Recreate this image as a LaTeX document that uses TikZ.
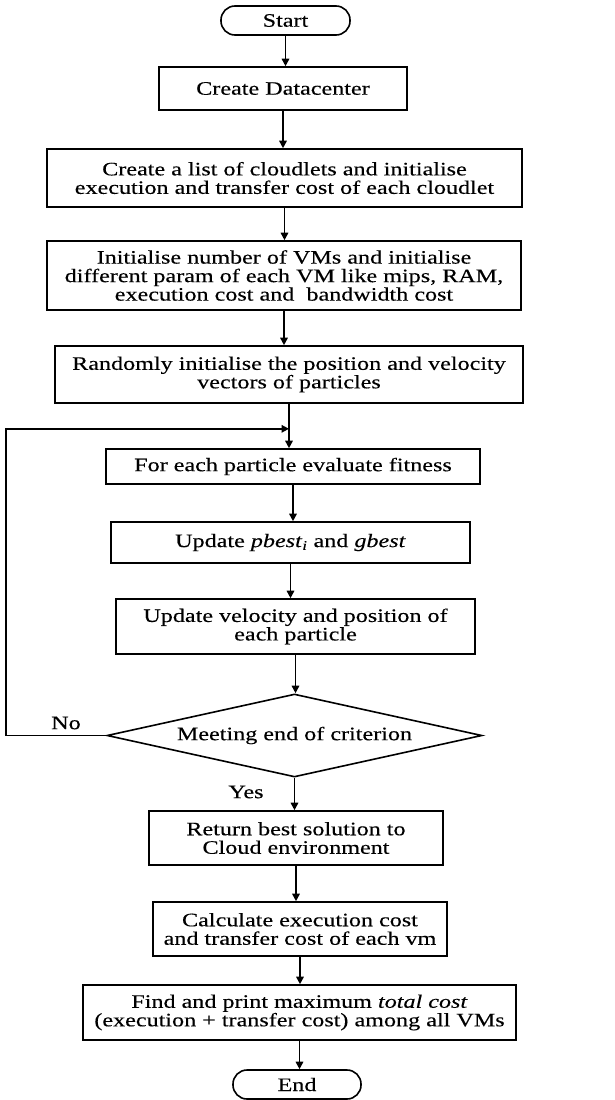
\documentclass[tikz,border=0pt]{standalone}
\usepackage{fontspec}
\setmainfont{Liberation Serif}[FakeStretch=1.27,FakeBold=0.3]
\usetikzlibrary{shapes.geometric,arrows.meta}
\begin{document}
\begin{tikzpicture}[x=1pt,y=1pt,
  font=\fontsize{19}{18.5}\selectfont,
  stepbox/.style={draw, line width=1.6pt, rectangle, align=center, inner sep=0pt},
  termbox/.style={draw, line width=1.6pt, rectangle, rounded corners=14pt, inner sep=0pt},
  decbox/.style={draw, line width=1.6pt, diamond, shape aspect=4.5, inner sep=0pt, align=center},
  arr/.style={line width=1.6pt, -{Triangle[length=7.5pt,width=7.5pt]}},
  lbl/.style={inner sep=0pt}]
\useasboundingbox (0,0) rectangle (615,-1100);

% terminals, steps and the decision
\node[termbox, minimum width=129pt, minimum height=29pt] (start) at (285.5,-20.5) {Start};
\node[stepbox, minimum width=248pt, minimum height=43pt] (dc) at (283,-88.5) {Create Datacenter};
\node[stepbox, minimum width=475pt, minimum height=58pt] (cl) at (284.5,-178) {Create a list of cloudlets and initialise\\execution and transfer cost of each cloudlet};
\node[stepbox, minimum width=474pt, minimum height=69pt] (vm) at (284,-275.5) {Initialise number of VMs and initialise\\different param of each VM like mips, RAM,\\execution cost and\ \ bandwidth cost};
\node[stepbox, minimum width=468pt, minimum height=57pt] (init) at (289,-374.5) {Randomly initialise the position and velocity\\vectors of particles};
\node[stepbox, minimum width=374pt, minimum height=35pt] (fit) at (293,-466.5) {For each particle evaluate fitness};
\node[stepbox, minimum width=359pt, minimum height=41pt] (best) at (290.5,-542.5) {Update \textit{pbest}\textsubscript{\textit{i}} and \textit{gbest}};
\node[stepbox, minimum width=359pt, minimum height=55pt] (upd) at (295.5,-626.5) {Update velocity and position of\\each particle};
\node[decbox, minimum width=375pt, minimum height=83pt] (crit) at (294.5,-735.5) {Meeting end of criterion};
\node[stepbox, minimum width=294pt, minimum height=54pt] (ret) at (296,-838) {Return best solution to\\Cloud environment};
\node[stepbox, minimum width=294pt, minimum height=54pt] (calc) at (300,-929) {Calculate execution cost\\and transfer cost of each vm};
\node[stepbox, minimum width=433pt, minimum height=55pt] (max) at (299.5,-1012.5) {Find and print maximum \textit{total cost}\\(execution + transfer cost) among all VMs};
\node[termbox, minimum width=128pt, minimum height=29pt] (end) at (297,-1084.5) {End};

% branch labels
\node[lbl] (no) at (66,-723) {No};
\node[lbl] (yes) at (246,-792) {Yes};

% main flow
\draw[arr] (start.south) -- (start.south |- dc.north);
\draw[arr] (dc.south) -- (dc.south |- cl.north);
\draw[arr] (cl.south) -- (cl.south |- vm.north);
\draw[arr] (vm.south) -- (vm.south |- init.north);
\coordinate (join) at ([yshift=-25pt]init.south);
\draw[arr] (init.south) -- (init.south |- fit.north);
\draw[arr] (fit.south) -- (fit.south |- best.north);
\draw[arr] (best.south) -- (best.south |- upd.north);
\draw[arr] (upd.south) -- (upd.south |- crit.north);
\draw[arr] (crit.south) -- (crit.south |- ret.north);
\draw[arr] (ret.south) -- (ret.south |- calc.north);
\draw[arr] (calc.south) -- (calc.south |- max.north);
\draw[arr] (max.south) -- (max.south |- end.north);

% loop back when the criterion is not met
\coordinate (lb) at (6,0);
\draw[arr] (crit.west) -- (lb |- crit.west) -- (lb |- join) -- (join);
\end{tikzpicture}
\end{document}
